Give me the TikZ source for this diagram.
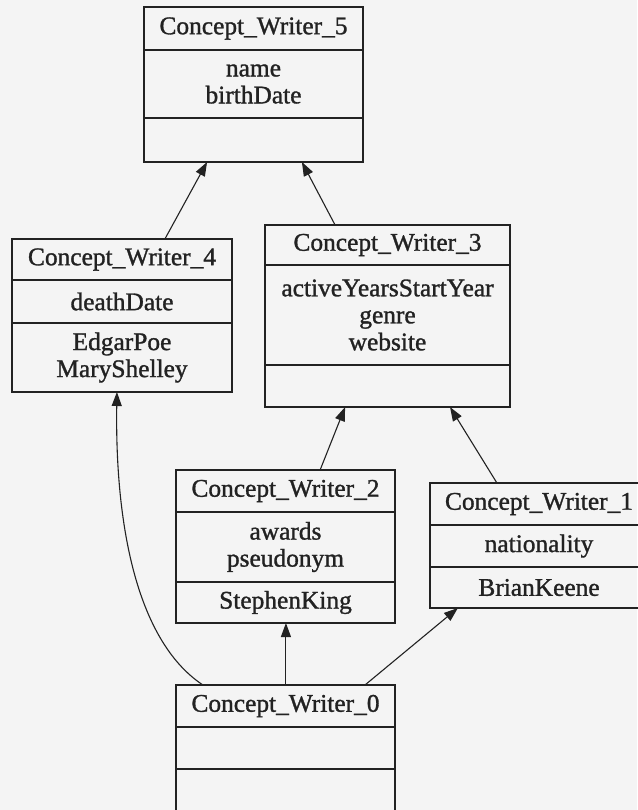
\documentclass[tikz,border=0pt]{standalone}
\usepackage{fontspec}
\setmainfont[FakeBold=1.2]{Liberation Serif}
\usetikzlibrary{arrows.meta,calc}
\definecolor{bgc}{HTML}{F4F4F4}
\definecolor{linec}{HTML}{222222}
\definecolor{textc}{HTML}{222222}
\newcommand{\umlfont}{\fontsize{25.4}{27}\selectfont}
\tikzset{
  cell/.style={draw=linec, line width=1.3pt, inner sep=0pt, outer sep=0pt,
    anchor=north west, align=center, font=\umlfont, text=textc},
  inherit/.style={draw=linec, line width=1.1pt,
    -{Triangle[length=14pt,width=10pt]}}
}
\begin{document}
\begin{tikzpicture}[x=1pt,y=-1pt]
\fill[bgc] (0,0) rectangle (637,810);
\useasboundingbox (0,0) rectangle (637,810);

% Concept_Writer_5
\node[cell, minimum width=219pt, minimum height=43pt] (c5h) at (144,7) {Concept\_Writer\_5};
\node[cell, minimum width=219pt, minimum height=68pt] (c5a) at (c5h.south west) {name\\birthDate};
\node[cell, minimum width=219pt, minimum height=44pt] (c5m) at (c5a.south west) {};

% Concept_Writer_4
\node[cell, minimum width=220pt, minimum height=41pt] (c4h) at (12,239) {Concept\_Writer\_4};
\node[cell, minimum width=220pt, minimum height=43pt] (c4a) at (c4h.south west) {deathDate};
\node[cell, minimum width=220pt, minimum height=69pt] (c4m) at (c4a.south west) {EdgarPoe\\MaryShelley};

% Concept_Writer_3
\node[cell, minimum width=245pt, minimum height=40pt] (c3h) at (265,225) {Concept\_Writer\_3};
\node[cell, minimum width=245pt, minimum height=100pt] (c3a) at (c3h.south west) {activeYearsStartYear\\genre\\website};
\node[cell, minimum width=245pt, minimum height=42pt] (c3m) at (c3a.south west) {};

% Concept_Writer_2
\node[cell, minimum width=219pt, minimum height=42pt] (c2h) at (176,470) {Concept\_Writer\_2};
\node[cell, minimum width=219pt, minimum height=70pt] (c2a) at (c2h.south west) {awards\\pseudonym};
\node[cell, minimum width=219pt, minimum height=41pt] (c2m) at (c2a.south west) {StephenKing};

% Concept_Writer_1
\node[cell, minimum width=218pt, minimum height=42pt] (c1h) at (430,483) {Concept\_Writer\_1};
\node[cell, minimum width=218pt, minimum height=42pt] (c1a) at (c1h.south west) {nationality};
\node[cell, minimum width=218pt, minimum height=41pt] (c1m) at (c1a.south west) {BrianKeene};

% Concept_Writer_0
\node[cell, minimum width=219pt, minimum height=42pt] (c0h) at (176,685) {Concept\_Writer\_0};
\node[cell, minimum width=219pt, minimum height=42pt] (c0a) at (c0h.south west) {};
\node[cell, minimum width=219pt, minimum height=43pt] (c0m) at (c0a.south west) {};

% generalisation arrows
\draw[inherit] ($(c4h.north west)!0.695!(c4h.north east)$) -- ($(c5m.south west)!0.288!(c5m.south east)$);
\draw[inherit] ($(c3h.north west)!0.286!(c3h.north east)$) -- ($(c5m.south west)!0.721!(c5m.south east)$);
\draw[inherit] ($(c2h.north west)!0.658!(c2h.north east)$) -- ($(c3m.south west)!0.327!(c3m.south east)$);
\draw[inherit] ($(c1h.north west)!0.307!(c1h.north east)$) -- ($(c3m.south west)!0.755!(c3m.south east)$);
\draw[inherit] ($(c0h.north west)!0.502!(c0h.north east)$) -- ($(c2m.south west)!0.502!(c2m.south east)$);
\draw[inherit] ($(c0h.north west)!0.863!(c0h.north east)$) -- ($(c1m.south west)!0.128!(c1m.south east)$);
\draw[inherit] ($(c0h.north west)!0.123!(c0h.north east)$) .. controls (135,640) and (115,520) .. ($(c4m.south west)!0.477!(c4m.south east)$);
\end{tikzpicture}
\end{document}
